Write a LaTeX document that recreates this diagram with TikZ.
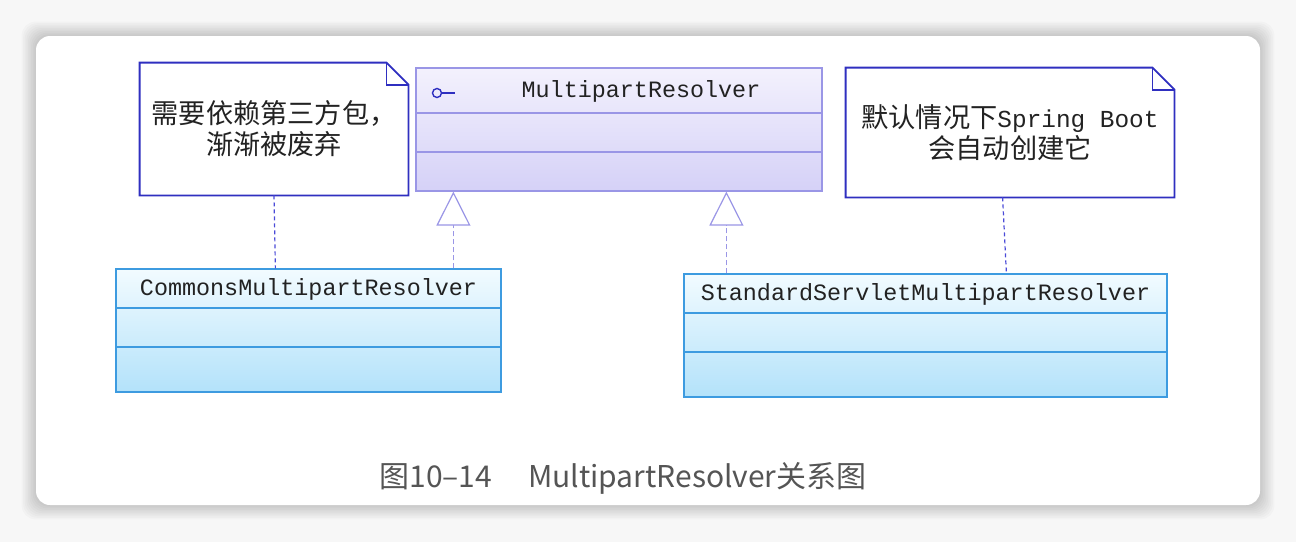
\documentclass[tikz,border=0pt]{standalone}
\usepackage{fontspec}
\newfontfamily\cjk{Noto Sans CJK SC}
\newfontfamily\monof{Liberation Mono}
\usetikzlibrary{arrows.meta,calc}
\definecolor{bgc}{HTML}{F7F7F7}
\definecolor{noteblue}{HTML}{2F2FC0}
\definecolor{linkblue}{HTML}{4A4AD8}
\definecolor{lav}{HTML}{9A96E6}
\definecolor{lavtop}{HTML}{F3F1FD}
\definecolor{lavbot}{HTML}{D5D1F7}
\definecolor{skyb}{HTML}{3D9BE0}
\definecolor{skytop}{HTML}{F2FBFF}
\definecolor{skybot}{HTML}{B3E2FA}
\definecolor{txt}{HTML}{222222}
\definecolor{captc}{HTML}{555555}
\begin{document}
\begin{tikzpicture}[x=0.5pt,y=-0.5pt,
  notebox/.style={draw=none,minimum width=#1,inner sep=0pt,align=center,text=txt,
    font=\fontsize{13.6}{15.5}\selectfont},
  ifacebox/.style={draw=lav,line width=0.6pt,top color=lavtop,bottom color=lavbot,inner sep=0pt},
  classbox/.style={draw=skyb,line width=0.6pt,top color=skytop,bottom color=skybot,inner sep=0pt},
  classname/.style={text=txt,font=\monof\fontsize{11.7}{14}\selectfont,inner sep=0pt},
  noteline/.style={draw=noteblue,line width=0.9pt},
  notelink/.style={draw=linkblue,line width=0.6pt,dash pattern=on 2pt off 1.5pt},
  realize/.style={draw=lav,line width=0.6pt,dash pattern=on 2.5pt off 1.5pt,
    -{Triangle[open,length=17pt,width=17pt,fill=white]}},
]
\useasboundingbox (0,0) rectangle (1296,542);
\fill[bgc] (0,0) rectangle (1296,542);
% card shadow
\foreach \i in {1,...,9}{
  \fill[black,opacity=0.02,rounded corners=7pt] (36-1.6*\i,36-1.6*\i) rectangle (1260+1.6*\i,505+1.6*\i);
}
\fill[white,rounded corners=7pt] (36,36) rectangle (1260,505);

% interface MultipartResolver
\node[ifacebox,minimum width=203pt,minimum height=61.5pt] (mr) at (619,129.5) {};
\draw[lav,line width=0.6pt] (mr.west |- 0,113) -- (mr.east |- 0,113);
\draw[lav,line width=0.6pt] (mr.west |- 0,152) -- (mr.east |- 0,152);
\node[classname] (mrname) at (641,91) {MultipartResolver};
\node[circle,draw=noteblue,line width=0.7pt,minimum size=4.5pt,inner sep=0pt] (lolly) at (437,93) {};
\coordinate (lollyend) at (455,93);
\draw[noteblue,line width=0.7pt] (lolly.east) -- (lollyend);

% CommonsMultipartResolver
\node[classbox,minimum width=192.5pt,minimum height=61.5pt] (cmr) at (308.5,330.5) {};
\draw[skyb,line width=0.6pt] (cmr.west |- 0,308) -- (cmr.east |- 0,308);
\draw[skyb,line width=0.6pt] (cmr.west |- 0,347) -- (cmr.east |- 0,347);
\node[classname] (cmrname) at (308.5,289) {CommonsMultipartResolver};

% StandardServletMultipartResolver
\node[classbox,minimum width=241.5pt,minimum height=61.5pt] (ssmr) at (925.5,335.5) {};
\draw[skyb,line width=0.6pt] (ssmr.west |- 0,313) -- (ssmr.east |- 0,313);
\draw[skyb,line width=0.6pt] (ssmr.west |- 0,352) -- (ssmr.east |- 0,352);
\node[classname] (ssmrname) at (925.5,294) {StandardServletMultipartResolver};

% note 1
\node[notebox=134pt,minimum height=66pt] (n1) at (274,129) {\cjk 需要依赖第三方包，\\\cjk 渐渐被废弃};
\draw[noteline,fill=none] (n1.south west) -- (n1.north west) -- ($(n1.north east)+(-22,0)$)
  -- ($(n1.north east)+(0,22)$) -- (n1.south east) -- cycle;
\draw[noteline] ($(n1.north east)+(-22,0)$) -- ($(n1.north east)+(-22,22)$) -- ($(n1.north east)+(0,22)$);

% note 2
\node[notebox=164pt,minimum height=64.5pt] (n2) at (1010,132.5) {{\cjk 默认情况下}{\monof\fontsize{12.2}{15.5}\selectfont Spring Boot}\\\cjk 会自动创建它};
\draw[noteline,fill=none] (n2.south west) -- (n2.north west) -- ($(n2.north east)+(-22,0)$)
  -- ($(n2.north east)+(0,22)$) -- (n2.south east) -- cycle;
\draw[noteline] ($(n2.north east)+(-22,0)$) -- ($(n2.north east)+(-22,22)$) -- ($(n2.north east)+(0,22)$);

% connectors
\draw[notelink] (n1.south) -- ($(cmr.north west)+(160,0)$);
\draw[notelink] ($(n2.south west)+(157,0)$) -- ($(ssmr.north west)+(323,0)$);
\draw[realize] ($(cmr.north west)+(338,0)$) -- ($(mr.south west)+(38,0)$);
\draw[realize] ($(ssmr.north west)+(43,0)$) -- ($(mr.south west)+(311,0)$);

% caption
\node[text=captc,font=\cjk\fontsize{15}{18}\selectfont,inner sep=0pt] (cap) at (623,478) {图10–14\hspace{18pt}MultipartResolver关系图};
\end{tikzpicture}
\end{document}
